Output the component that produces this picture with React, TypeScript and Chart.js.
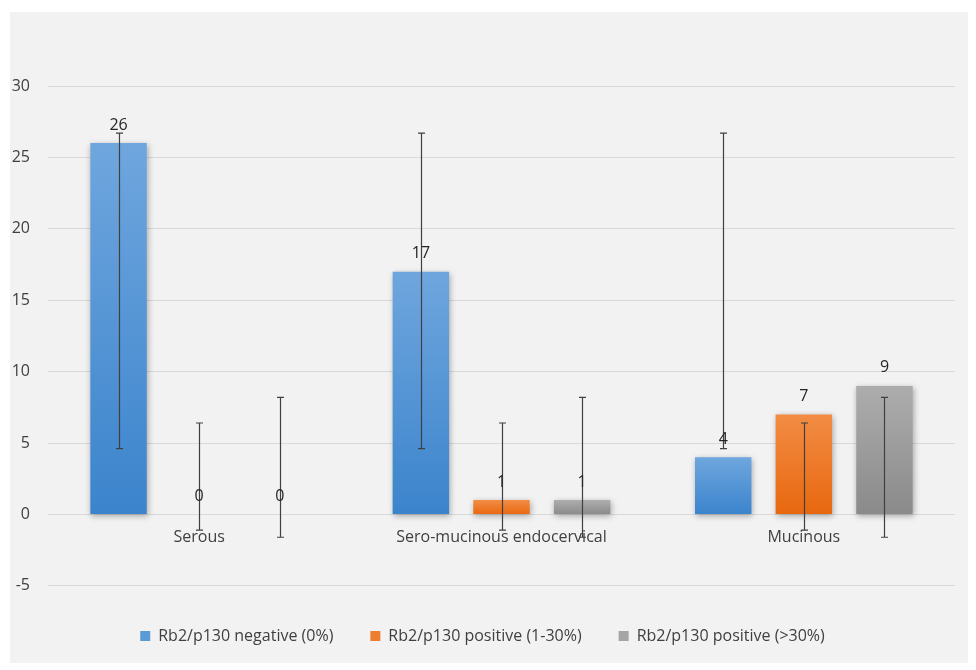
import { Chart, registerables, ChartConfiguration, Plugin } from "chart.js";
import { useEffect, useRef } from "react";

const categories = ["Serous", "Sero-mucinous endocervical", "Mucinous"];
const seriesNames = [
  "Rb2/p130 negative (0%)",
  "Rb2/p130 positive (1-30%)",
  "Rb2/p130 positive (>30%)",
];
const negativeValues = [26, 17, 4];
const lowPositiveValues = [0, 1, 7];
const highPositiveValues = [0, 1, 9];

// error bar ends
const negativeErrLow = [4.6, 4.6, 4.6];
const negativeErrHigh = [26.7, 26.7, 26.7];
const lowPositiveErrLow = [-1.1, -1.1, -1.1];
const lowPositiveErrHigh = [6.4, 6.4, 6.4];
const highPositiveErrLow = [-1.6, -1.6, -1.6];
const highPositiveErrHigh = [8.2, 8.2, 8.2];

const yTicks = [-5, 0, 5, 10, 15, 20, 25, 30];

const FONT = "'Open Sans', 'Noto Sans', sans-serif";

const gradientFor = (top: string, bottom: string, solid: string) => (ctx: any) => {
  const chart = ctx.chart;
  const yScale = chart.scales?.y;
  if (!chart.chartArea || !yScale || ctx.parsed == null) return solid;
  const y0 = yScale.getPixelForValue(0);
  const y1 = yScale.getPixelForValue(ctx.parsed.y);
  if (Math.abs(y0 - y1) < 1) return solid;
  const g = chart.ctx.createLinearGradient(0, y1, 0, y0);
  g.addColorStop(0, top);
  g.addColorStop(1, bottom);
  return g;
};

const shadowPlugin: Plugin = {
  id: "barShadow",
  beforeDatasetDraw(chart) {
    const c = chart.ctx;
    c.save();
    c.shadowColor = "rgba(0,0,0,0.32)";
    c.shadowBlur = 6;
    c.shadowOffsetX = 1;
    c.shadowOffsetY = 2;
  },
  afterDatasetDraw(chart) {
    chart.ctx.restore();
  },
};

const errorBarPlugin: Plugin = {
  id: "errorBars",
  afterDatasetsDraw(chart) {
    const c = chart.ctx;
    const yScale = chart.scales.y;
    chart.data.datasets.forEach((ds: any, i) => {
      const meta = chart.getDatasetMeta(i);
      meta.data.forEach((bar: any, j: number) => {
        const lo = yScale.getPixelForValue(ds.errLow[j]);
        const hi = yScale.getPixelForValue(ds.errHigh[j]);
        const x = Math.round(bar.x) + 0.5;
        c.save();
        c.strokeStyle = "#404040";
        c.lineWidth = 1.2;
        c.beginPath();
        c.moveTo(x, lo);
        c.lineTo(x, hi);
        c.moveTo(x - 3.5, lo);
        c.lineTo(x + 3.5, lo);
        c.moveTo(x - 3.5, hi);
        c.lineTo(x + 3.5, hi);
        c.stroke();
        c.restore();
      });
    });
  },
};

const valueLabelPlugin: Plugin = {
  id: "valueLabels",
  afterDatasetsDraw(chart) {
    const c = chart.ctx;
    chart.data.datasets.forEach((ds: any, i) => {
      const meta = chart.getDatasetMeta(i);
      meta.data.forEach((bar: any, j: number) => {
        c.save();
        c.fillStyle = "#262626";
        c.font = `16px ${FONT}`;
        c.textAlign = "center";
        c.textBaseline = "middle";
        c.fillText(String(ds.data[j]), bar.x, bar.y - 18);
        c.restore();
      });
    });
  },
};

const App = () => {
  const canvasRef = useRef<HTMLCanvasElement>(null);

  useEffect(() => {
    const ctx = canvasRef.current?.getContext("2d");
    if (!ctx) return;

    Chart.register(...registerables);

    const config: ChartConfiguration = {
      type: "bar",
      data: {
        labels: categories,
        datasets: [
          {
            label: seriesNames[0],
            data: negativeValues,
            backgroundColor: gradientFor("#6fa6de", "#3b84cc", "#5b9bd5"),
            errLow: negativeErrLow,
            errHigh: negativeErrHigh,
          } as any,
          {
            label: seriesNames[1],
            data: lowPositiveValues,
            backgroundColor: gradientFor("#f28c44", "#e8680f", "#ed7d31"),
            errLow: lowPositiveErrLow,
            errHigh: lowPositiveErrHigh,
          } as any,
          {
            label: seriesNames[2],
            data: highPositiveValues,
            backgroundColor: gradientFor("#adadad", "#8a8a8a", "#a5a5a5"),
            errLow: highPositiveErrLow,
            errHigh: highPositiveErrHigh,
          } as any,
        ],
      },
      options: {
        animation: false,
        responsive: true,
        maintainAspectRatio: false,
        datasets: {
          bar: { barPercentage: 0.7, categoryPercentage: 0.8 },
        },
        layout: { padding: { top: 74, right: 13, bottom: 9, left: 0 } },
        scales: {
          x: {
            position: { y: 0 } as any,
            grid: { display: false, drawTicks: false },
            border: { display: false },
            ticks: {
              color: "#404040",
              font: { family: FONT, size: 16 },
              padding: 13,
              maxRotation: 0,
            },
          },
          y: {
            min: -5,
            max: 30,
            afterBuildTicks: (axis: any) => {
              axis.ticks = yTicks.map((v) => ({ value: v }));
            },
            afterFit: (axis: any) => {
              axis.width = 38;
            },
            grid: { color: "#d9d9d9", drawTicks: false },
            border: { display: false },
            ticks: {
              color: "#404040",
              font: { family: FONT, size: 16 },
              padding: 18,
            },
          },
        },
        plugins: {
          legend: {
            position: "bottom",
            title: {
              display: true,
              text: "",
              font: { size: 1 },
              padding: { top: 4, bottom: 0 },
            },
            labels: {
              color: "#404040",
              font: { family: FONT, size: 16 },
              boxWidth: 10,
              boxHeight: 10,
              padding: 37,
              generateLabels: (chart: any) =>
                chart.data.datasets.map((ds: any, i: number) => ({
                  text: ds.label,
                  fillStyle: ["#5b9bd5", "#ed7d31", "#a5a5a5"][i],
                  strokeStyle: "rgba(0,0,0,0)",
                  lineWidth: 0,
                  datasetIndex: i,
                  fontColor: "#404040",
                })),
            },
          },
          tooltip: { enabled: false },
        },
      } as any,
      plugins: [shadowPlugin, errorBarPlugin, valueLabelPlugin],
    };

    const chart = new Chart(ctx, config);
    return () => {
      chart.destroy();
    };
  }, []);

  return (
    <div
      style={{
        position: "absolute",
        left: 10,
        top: 12,
        width: 958,
        height: 651,
        background: "#f2f2f2",
      }}
    >
      <canvas ref={canvasRef} />
    </div>
  );
};

export default App;
